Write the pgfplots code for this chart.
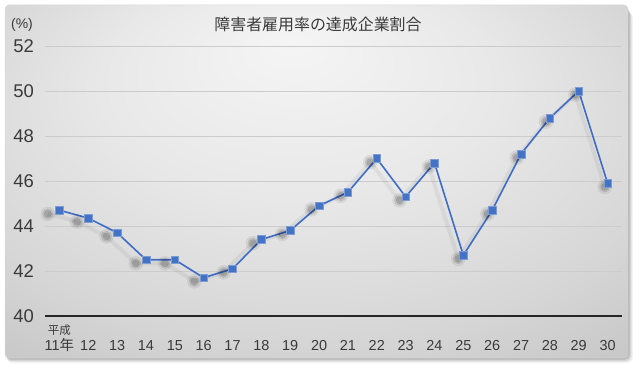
\documentclass[border=0pt]{standalone}
\usepackage{pgfplots}
\pgfplotsset{compat=1.18}
\usepackage{pgfplotstable}
\usepackage{fontspec}
\setmainfont{Liberation Sans}
\newfontfamily\cjk{Noto Sans CJK JP}
\definecolor{lineblue}{HTML}{3F6CC4}
\definecolor{markblue}{HTML}{4472C4}
\definecolor{txt}{HTML}{3A3A3A}
\pgfdeclareradialshading{bgshade}{\pgfpoint{-2bp}{20bp}}{color(0bp)=(black!4); color(16bp)=(black!9); color(30bp)=(black!16); color(50bp)=(black!29)}
\pgfplotstableread{
x y
0 44.7
1 44.35
2 43.7
3 42.5
4 42.5
5 41.7
6 42.1
7 43.4
8 43.8
9 44.9
10 45.5
11 47.0
12 45.3
13 46.8
14 42.7
15 44.7
16 47.2
17 48.8
18 50.0
19 45.9
}\datatable
\begin{document}
\begin{tikzpicture}[x=1bp,y=1bp]
\useasboundingbox (0,0) rectangle (640,371);
\fill[white] (0,0) rectangle (640,371);
% frame shadow
\foreach \s/\o in {5/0.04,4/0.05,3/0.07,2/0.09,1/0.1}{
  \fill[black, opacity=\o, rounded corners=5bp] (5+\s*0.4,13-\s) rectangle (628+\s,366-\s*1.6);
}
\shade[shading=bgshade, rounded corners=4bp] (5,13) rectangle (628,366);
\draw[white!85!black, line width=0.5bp, rounded corners=4bp] (5,13) rectangle (628,366);
\node[font=\cjk\fontsize{16}{18}\selectfont, text=txt] at (318,346.5) {障害者雇用率の達成企業割合};
\node[font=\fontsize{14}{16}\selectfont, text=txt, anchor=west, inner sep=0pt] at (11,346) {(\%)};
\begin{axis}[
  at={(45bp,55bp)}, anchor=south west,
  scale only axis, width=577bp, height=270bp,
  xmin=-0.5, xmax=19.5, ymin=40, ymax=52,
  ytick={42,44,...,52},
  extra y ticks={40},
  extra y tick style={major grid style={draw=black!85, line width=1.1bp}},
  xtick={0,...,19},
  xticklabels={11{\cjk 年},12,13,14,15,16,17,18,19,20,21,22,23,24,25,26,27,28,29,30},
  axis line style={draw=none},
  major tick length=0pt,
  ymajorgrids,
  major grid style={draw=black!20, line width=0.8bp},
  /pgf/number format/assume math mode=true,
  yticklabel style={font=\fontsize{18.5}{20}\selectfont, text=txt, inner sep=0pt, anchor=east, xshift=-11bp},
  xticklabel style={font=\fontsize{14.5}{16}\selectfont, text=txt, inner sep=0pt, anchor=base, yshift=-34bp},
  clip=false,
]
\node[font=\cjk\fontsize{11.5}{13}\selectfont, text=txt, anchor=base, inner sep=0pt] at (axis cs:0,40) [yshift=-18bp] {平成};
% soft shadows of the line and markers
\addplot[draw=black, opacity=0.05, line width=4bp, mark=none]
  table[x expr=\thisrow{x}-0.4+0.3*\thisrow{x}/19, y expr=\thisrow{y}-0.16] {\datatable};
\addplot[draw=none, mark=*, mark size=7bp, mark options={draw=none, fill=black, opacity=0.06}]
  table[x expr=\thisrow{x}-0.4+0.3*\thisrow{x}/19, y expr=\thisrow{y}-0.16] {\datatable};
\addplot[draw=none, mark=*, mark size=5.2bp, mark options={draw=none, fill=black, opacity=0.09}]
  table[x expr=\thisrow{x}-0.4+0.3*\thisrow{x}/19, y expr=\thisrow{y}-0.16] {\datatable};
\addplot[draw=none, mark=*, mark size=3.5bp, mark options={draw=none, fill=black, opacity=0.12}]
  table[x expr=\thisrow{x}-0.4+0.3*\thisrow{x}/19, y expr=\thisrow{y}-0.16] {\datatable};
% data
\addplot[color=lineblue, line width=1.6bp, mark=square*, mark size=3.8bp, mark options={fill=markblue, draw=markblue!70!white, line width=0.5bp}]
  table[x=x, y=y] {\datatable};
\end{axis}
\end{tikzpicture}
\end{document}
